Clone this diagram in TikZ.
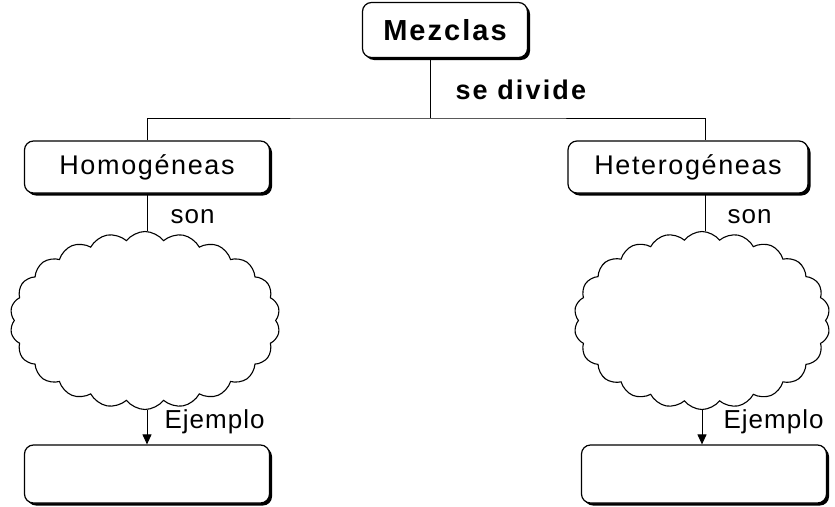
\documentclass[tikz,border=0pt]{standalone}
\usepackage{fontspec}
\setmainfont{Liberation Sans}
\usetikzlibrary{shapes.symbols,shadows,arrows.meta}

\tikzset{
  conceptbox/.style={draw, line width=1.2pt, rounded corners=9pt, fill=white,
    drop shadow={shadow xshift=2.5pt, shadow yshift=-2.5pt, opacity=1, fill=black},
    inner sep=0pt, font=\fontsize{27}{30}\selectfont\addfontfeature{LetterSpace=6}},
  puffcloud/.style={cloud, draw, line width=1.1pt, cloud puffs=22, cloud puff arc=105,
    cloud ignores aspect, minimum width=270pt, minimum height=178pt, inner sep=0pt},
  linklabel/.style={anchor=west, inner sep=0pt, font=\fontsize{26}{28}\selectfont\addfontfeature{LetterSpace=4}},
}

\begin{document}
\begin{tikzpicture}[x=1pt, y=-1pt, >={Triangle[width=9pt,length=10pt]}, line width=1pt]
  \useasboundingbox (0,0) rectangle (835,506);

  % top concept
  \node[conceptbox, minimum width=165pt, minimum height=55pt,
    font=\fontsize{29}{31}\selectfont\bfseries\addfontfeature{LetterSpace=7}]
    (mezclas) at (445,30) {Mezclas};
  \coordinate (split) at (430,118);
  \draw (mezclas.south -| split) -- (split);
  \node[linklabel, font=\fontsize{27}{29}\selectfont\bfseries\addfontfeature{LetterSpace=8}]
    (sedivide) at (455,90) {se divide};

  % the two kinds
  \node[conceptbox, minimum width=245pt, minimum height=52pt] (homo) at (147,167) {Homogéneas};
  \node[conceptbox, minimum width=240pt, minimum height=52pt] (hetero) at (688,167) {Heterogéneas};
  \coordinate (hetjoin) at ([xshift=17pt]hetero.north);
  \draw (homo.north) |- (split) -| (hetjoin);

  % clouds
  \node[puffcloud] (homocloud) at (145,320.5) {};
  \node[puffcloud, minimum width=256pt] (hetecloud) at (702,320.5) {};
  \draw (homo.south) -- (homocloud.north -| homo.south);
  \draw (hetjoin |- hetero.south) -- (hetjoin |- hetecloud.north);
  \node[linklabel] (homoson) at (170,217) {son};
  \node[linklabel] (heteson) at (727,217) {son};

  % examples
  \node[conceptbox, minimum width=245pt, minimum height=58pt] (homoej) at (147,474) {};
  \node[conceptbox, minimum width=245pt, minimum height=58pt] (heteej) at (704,474) {};
  \draw[->] (homocloud.south -| homoej.north) -- (homoej.north);
  \draw[->] (hetecloud.south) -- (hetecloud.south |- heteej.north);
  \node[linklabel] (homoejlabel) at (164,422) {Ejemplo};
  \node[linklabel] (heteejlabel) at (723,422) {Ejemplo};
\end{tikzpicture}
\end{document}
